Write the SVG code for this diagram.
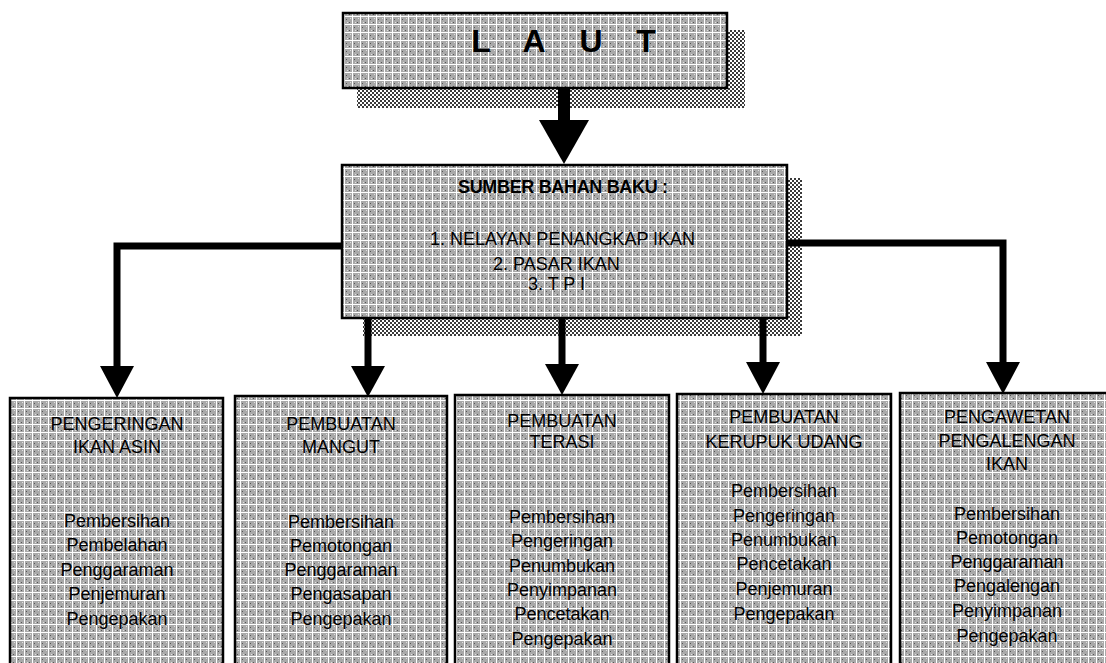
<svg xmlns="http://www.w3.org/2000/svg" width="1106" height="663" viewBox="0 0 1106 663">
<defs>
<pattern id="fillp" width="8" height="8" patternUnits="userSpaceOnUse">
<rect width="8" height="8" fill="#a9a9a9"/>
<rect x="0" y="0" width="8" height="1" fill="#ffffff"/>
<rect x="0" y="0" width="1" height="8" fill="#ffffff"/>
<rect x="2" y="3" width="1" height="1" fill="#555"/>
<rect x="5" y="6" width="1" height="1" fill="#555"/>
<rect x="6" y="2" width="1" height="1" fill="#e0e0e0"/>
<rect x="3" y="6" width="1" height="1" fill="#e0e0e0"/>
</pattern>
<pattern id="shadp" width="4" height="4" patternUnits="userSpaceOnUse">
<rect width="4" height="4" fill="#ffffff"/>
<rect x="0" y="0" width="2" height="2" fill="#3a3a3a"/>
<rect x="2" y="2" width="2" height="2" fill="#3a3a3a"/>
</pattern>
</defs>
<style>
.box{fill:url(#fillp);stroke:#000;stroke-width:2.5}
.shad{fill:url(#shadp)}
.conn{fill:none;stroke:#000;stroke-width:7}
.head{fill:#000}
text{font-family:"Liberation Sans",Arial,sans-serif;font-size:18px;fill:#000}
.c{text-anchor:middle}
.b{font-weight:bold}
.big{font-weight:bold;font-size:32px;text-anchor:middle}
</style>
<rect width="1106" height="663" fill="#ffffff"/>

<g id="shadows">
<rect class="shad" x="357" y="30" width="388" height="78"/>
<rect class="shad" x="363" y="178" width="439" height="158"/>
</g>

<g id="connectors">
<rect class="head" x="558" y="86" width="12" height="36"/>
<polygon class="head" points="539,120 589,120 564,164"/>
<path class="conn" d="M342,246 H117 V368"/>
<polygon class="head" points="100,366 134,366 117,398"/>
<path class="conn" d="M787,243 H1003 V364"/>
<polygon class="head" points="986,362 1020,362 1003,394"/>
<path class="conn" d="M368,316 V368"/>
<polygon class="head" points="351,366 385,366 368,397"/>
<path class="conn" d="M562,316 V366"/>
<polygon class="head" points="545,364 579,364 562,395"/>
<path class="conn" d="M763,316 V364"/>
<polygon class="head" points="746,362 780,362 763,394"/>
</g>

<g id="laut">
<rect class="box" x="343" y="13" width="384" height="75"/>
<text class="big" x="481 507 534 562 591 618 646" y="52">L A U T</text>
</g>

<g id="sumber">
<rect class="box" x="342" y="165" width="445" height="153"/>
<text class="c b" x="563" y="193" textLength="210">SUMBER BAHAN BAKU :</text>
<text x="430" y="245">1.  NELAYAN PENANGKAP IKAN</text>
<text x="493" y="270">2.  PASAR IKAN</text>
<text x="528" y="290">3.  T P I</text>
</g>

<g id="box1">
<rect class="box" x="10" y="398" width="213" height="275"/>
<text class="c" x="117" y="430">PENGERINGAN</text>
<text class="c" x="117" y="453">IKAN ASIN</text>
<text class="c" x="117" y="527">Pembersihan</text>
<text class="c" x="117" y="551">Pembelahan</text>
<text class="c" x="117" y="576">Penggaraman</text>
<text class="c" x="117" y="600">Penjemuran</text>
<text class="c" x="117" y="625">Pengepakan</text>
</g>

<g id="box2">
<rect class="box" x="235" y="396" width="212" height="277"/>
<text class="c" x="341" y="430">PEMBUATAN</text>
<text class="c" x="341" y="453">MANGUT</text>
<text class="c" x="341" y="528">Pembersihan</text>
<text class="c" x="341" y="552">Pemotongan</text>
<text class="c" x="341" y="576">Penggaraman</text>
<text class="c" x="341" y="600">Pengasapan</text>
<text class="c" x="341" y="625">Pengepakan</text>
</g>

<g id="box3">
<rect class="box" x="455" y="395" width="214" height="278"/>
<text class="c" x="562" y="427">PEMBUATAN</text>
<text class="c" x="562" y="448">TERASI</text>
<text class="c" x="562" y="523">Pembersihan</text>
<text class="c" x="562" y="547">Pengeringan</text>
<text class="c" x="562" y="572">Penumbukan</text>
<text class="c" x="562" y="596">Penyimpanan</text>
<text class="c" x="562" y="620">Pencetakan</text>
<text class="c" x="562" y="645">Pengepakan</text>
</g>

<g id="box4">
<rect class="box" x="677" y="394" width="214" height="279"/>
<text class="c" x="784" y="423">PEMBUATAN</text>
<text class="c" x="784" y="448">KERUPUK UDANG</text>
<text class="c" x="784" y="497">Pembersihan</text>
<text class="c" x="784" y="522">Pengeringan</text>
<text class="c" x="784" y="546">Penumbukan</text>
<text class="c" x="784" y="570">Pencetakan</text>
<text class="c" x="784" y="595">Penjemuran</text>
<text class="c" x="784" y="620">Pengepakan</text>
</g>

<g id="box5">
<rect class="box" x="900" y="393" width="214" height="280"/>
<text class="c" x="1007" y="423">PENGAWETAN</text>
<text class="c" x="1007" y="447">PENGALENGAN</text>
<text class="c" x="1007" y="470">IKAN</text>
<text class="c" x="1007" y="520">Pembersihan</text>
<text class="c" x="1007" y="544">Pemotongan</text>
<text class="c" x="1007" y="568">Penggaraman</text>
<text class="c" x="1007" y="592">Pengalengan</text>
<text class="c" x="1007" y="617">Penyimpanan</text>
<text class="c" x="1007" y="642">Pengepakan</text>
</g>
</svg>
